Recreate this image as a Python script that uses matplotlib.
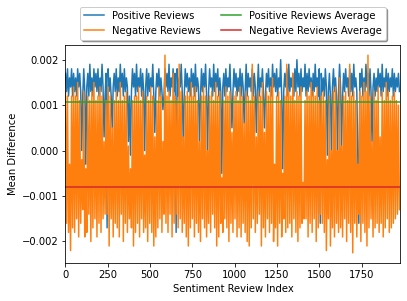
import numpy as np
import matplotlib
matplotlib.use("Agg")
import matplotlib.pyplot as plt

# values, in units of 1e-4
positive = [
    17, 13, 18, 12, 16, 14, 18, 12, 17, 13,
    16, 12, 18, 14, 17, 13, 0, 12, 18, 13,
    -3, 14, 17, 12, 19, 13, 16, 12, 18, 14,
    17, 13, 18, 12, 16, 13, 19, 14, 3, 12,
    17, -17, 18, 13, 16, 12, 5, 14, 17, 13,
    18, 12, 16, 13, 19, 14, 17, 12, 18, 13,
    16, 14, 2, 12, -1, 13, 18, 14, 17, 12,
    19, 13, 16, 14, 18, 12, 17, 13, 0, 14,
    18, 12, 17, 13, 16, 14, 19, 12, 4, 13,
    17, 14, 18, 12, 16, 13, 9, 12, 18, 14,
    17, 13, 19, 12, 16, 14, 18, 13, 17, -18,
    18, 12, 16, 14, 19, 13, 2, 12, 18, 14,
    17, 13, 16, 12, 18, 14, 17, 12, 19, 13,
    16, 14, 2, 12, 18, 13, 17, 14, 19, 12,
    0, 13, 18, 14, 16, 12, 19, 13, 17, 14,
    18, 12, 16, 13, -5, 14, 17, 12, 18, 13,
    16, 14, 19, 12, 5, 13, 18, 14, 17, 12,
    16, 13, 18, 12, 17, 14, 6, 13, 19, 12,
    17, 14, 16, 13, 18, 12, 17, 14, 4, 13,
    19, 12, 16, 14, 18, 13, 5, 12, 17, 14,
    18, 13, 16, 12, 19, 14, 17, 13, 18, 12,
    16, 14, 20, 12, -4, 13, 17, 14, 18, 12,
    19, 13, 16, 14, 17, 12, 18, 13, 20, 14,
    17, 12, 18, 13, 16, 14, 19, 12, 17, 13,
    18, 14, 16, 12, 17, 13, 19, 14, 16, 12,
    18, -16, 17, 13, 16, 12, 18, 14, -1, 13,
    17, 12, 0, 14, 18, 13, 16, 12, 0, 13,
    19, 14, 1, 12, 17, 13, 18, 14, 16, 12,
    18, 13, 17, 12, 19, 14, 16, 13, -2, -16,
    17, 14, 18, 12, 16, 13, 19, 14, 17, 12,
    18, 13, 2, 14, 17, 12, 16, 13, 18, 14,
    17, 12, 19, 13, 16, 14, 18, 12, 17, 13,
    16, 14, 18, 12, 17, 13, 16, 14, 17, 13,
]

negative = [
    13, -16, 12, -18, -3, -22, 12, -17, 14, -18,
    12, -15, 15, -19, 11, -16, -2, -13, 13, -19,
    -4, -18, 12, -14, 11, -20, 13, -17, 15, -15,
    11, -19, 12, -16, 14, -18, 12, -15, 2, -14,
    11, -14, 14, -21, 12, -15, 5, -19, 11, -16,
    13, -17, 11, -19, 15, -14, 11, -20, 12, -16,
    13, -18, 1, -15, -4, -17, 11, -21, 12, -18,
    12, -16, 14, -19, 11, -15, 13, -18, -1, -17,
    12, -20, 11, -16, 14, -18, 12, -21, 3, -19,
    11, -17, 14, -15, 12, -18, 2, -14, 21, -16,
    12, -18, 13, -14, 11, -19, 17, -16, 12, -14,
    11, -17, 19, -15, 13, -18, 3, -16, 12, -19,
    13, -21, 12, -17, 15, -15, 12, -19, 14, -16,
    11, -18, 2, -20, 12, -15, 14, -17, 12, -19,
    0, -16, 12, -18, 13, -14, 11, -17, 15, -21,
    12, -19, 13, -16, -6, -18, 11, -15, 14, -17,
    12, -20, 13, -16, 4, -18, 12, -15, 13, -19,
    11, -17, 14, -19, 12, -16, 6, -18, 13, -20,
    12, -21, 11, -17, 19, -15, 12, -18, 3, -16,
    13, -14, 12, -21, 15, -17, 4, -19, 13, -15,
    12, -18, 14, -16, 16, -20, -3, -17, 12, -21,
    13, -16, 11, -19, -5, -15, 12, -18, 19, -17,
    13, -16, 12, -19, 17, -15, 11, -18, 13, -20,
    12, -17, 14, -16, -7, -15, 11, -15, 13, -19,
    12, -16, 15, -18, 13, -15, 12, -20, 14, -17,
    11, -14, 12, -16, 13, -18, 11, -22, -2, -15,
    12, -21, 0, -17, 13, -19, 14, -16, 0, -18,
    16, -17, 1, -19, 12, -15, 13, -20, 11, -16,
    19, -18, 12, -22.5, 13, -16, 11, -19, -3, -14,
    13, -20, 12, -16, 15, -18, 13, -21, 21, -17,
    12, -15, 2, -19, 13, -17, 11, -16, 14, -18,
    3, -16, 13, -19, 11, -17, 15, -15, 13, -18,
    11, -17, 12, -16, 13, -15, 11, -14, 10, -13,
]

positive_avg = 10.7
negative_avg = -8.0

scale = 1e-4
pos = np.array(positive) * scale
neg = np.array(negative) * scale
review_index = np.arange(len(pos)) * 6

fig = plt.figure(figsize=(407 / 72, 301 / 72), dpi=72)
ax = fig.add_axes([0.1609, 0.1272, 0.8226, 0.7223])

ax.plot(review_index, pos, label="Positive Reviews")
ax.plot(review_index, neg, label="Negative Reviews")
ax.axhline(positive_avg * scale, color="tab:green", label="Positive Reviews Average")
ax.axhline(negative_avg * scale, color="tab:red", label="Negative Reviews Average")

ax.set_xlim(0, 1979)
ax.set_xlabel("Sentiment Review Index")
ax.set_ylabel("Mean Difference")
ax.legend(loc="upper center", bbox_to_anchor=(0.5, 1.2), ncol=2, shadow=True, fancybox=True)

fig.savefig("out.png", dpi=72)
